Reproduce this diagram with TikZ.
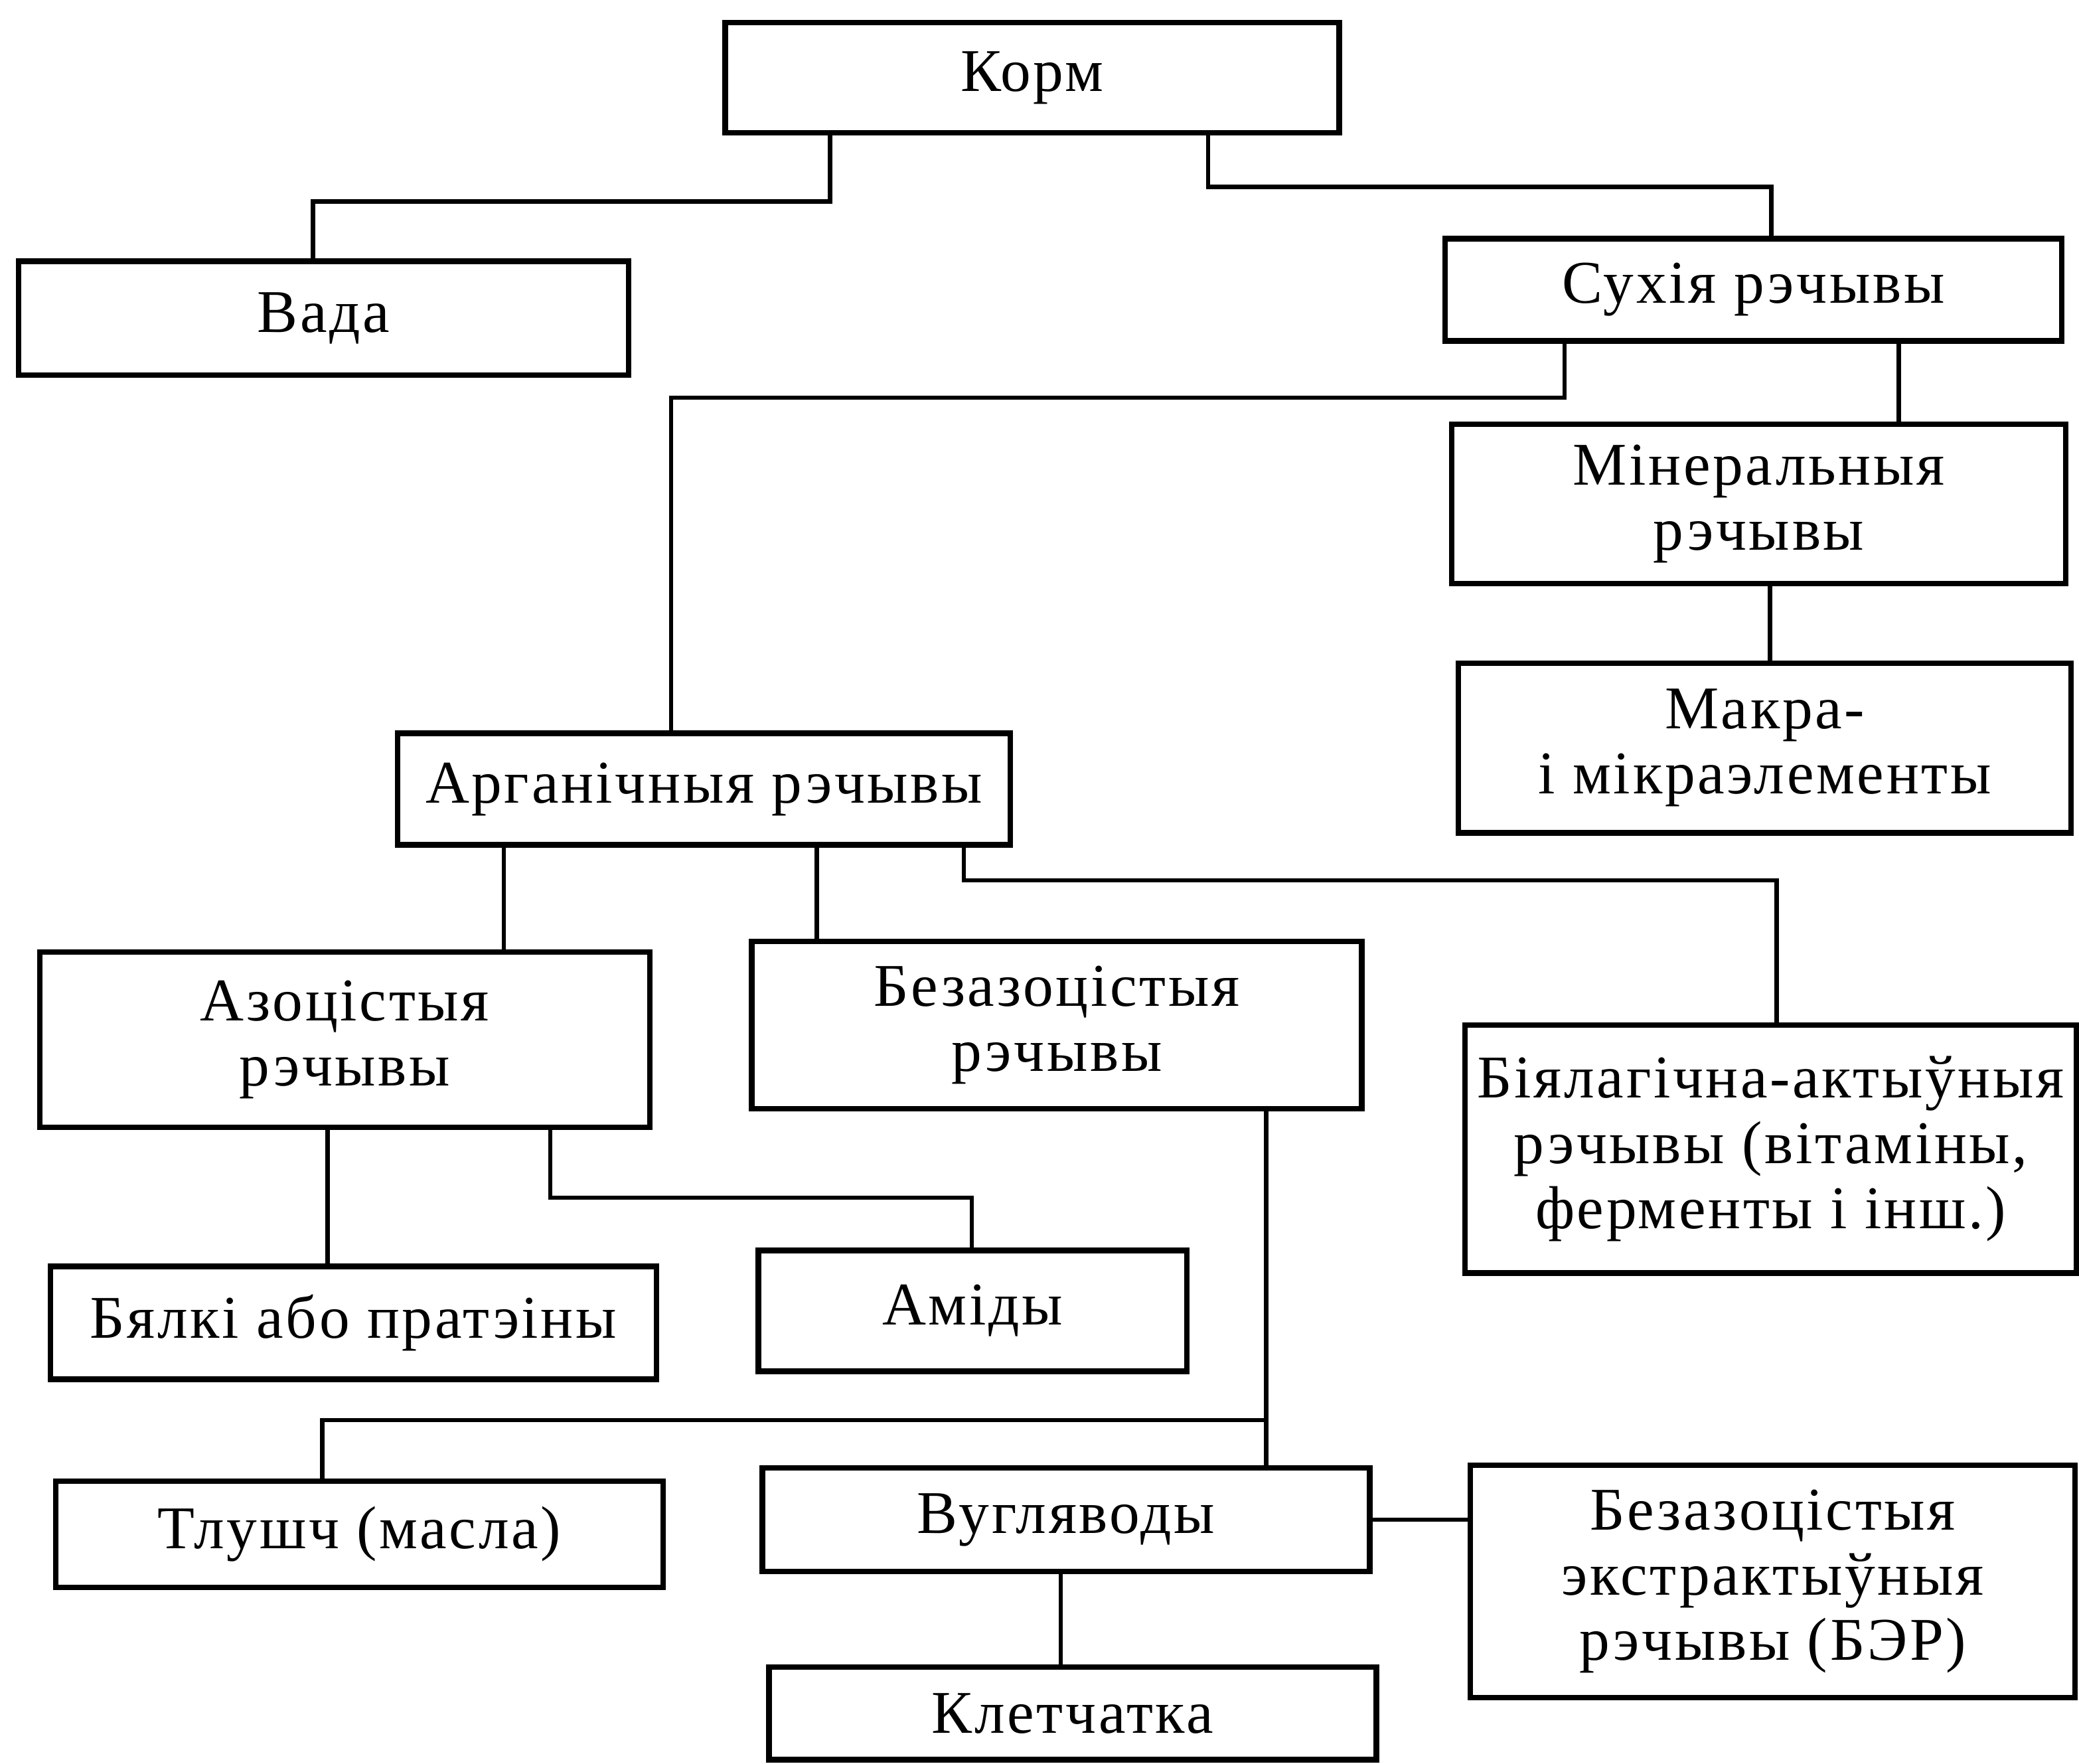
\documentclass[tikz,border=0pt]{standalone}
\usepackage{fontspec}
\setmainfont[LetterSpace=4]{Liberation Serif}
\newcommand\uu{0.019974cm}
\newcommand\mybox[6]{\node[box, minimum width=#4*\uu, minimum height=#5*\uu] (#1) at (#2,#3) {#6};}
\tikzset{
  box/.style={draw, line width=2.4pt, fill=white, align=center, inner sep=0pt,
    font=\fontsize{26}{28}\selectfont},
  link/.style={line width=1.8pt}
}
\begin{document}
\begin{tikzpicture}[x=0.019974cm, y=-0.019974cm]
\useasboundingbox (0,0) rectangle (1568,1330);
% boxes
\mybox{korm}{778.5}{58.5}{463}{83}{Корм}
\mybox{vada}{244}{240}{460}{86}{Вада}
\mybox{suhia}{1322.5}{218.5}{465}{77}{Сухія рэчывы}
\mybox{miner}{1326.5}{380}{463}{120}{Мінеральныя\\рэчывы}
\mybox{makra}{1331}{564}{462}{128}{Макра-\\і мікраэлементы}
\mybox{argan}{531}{595}{462}{84}{Арганічныя рэчывы}
\mybox{azot}{260}{784}{460}{132}{Азоцістыя\\рэчывы}
\mybox{bezaz}{797}{773}{460}{126}{Безазоцістыя\\рэчывы}
\mybox{bial}{1335.5}{866.5}{461}{187}{Біялагічна-актыўныя\\рэчывы (вітаміны,\\ферменты і інш.)}
\mybox{bialki}{266.5}{997.5}{457}{85}{Бялкі або пратэіны}
\mybox{amidy}{733.5}{988.5}{323}{91}{Аміды}
\mybox{tlush}{271}{1157}{458}{80}{Тлушч (масла)}
\mybox{vugl}{804}{1146}{458}{78}{Вугляводы}
\mybox{ber}{1337}{1192.5}{456}{175}{Безазоцістыя\\экстрактыўныя\\рэчывы (БЭР)}
\mybox{klet}{809}{1292}{458}{70}{Клетчатка}
% connectors
\draw[link] (korm.south -| 626,0) -- (626,152) -- (236,152) -- (vada.north -| 236,0);
\draw[link] (korm.south -| 911,0) -- (911,141) -- (1336,141) -- (suhia.north -| 1336,0);
\draw[link] (suhia.south -| 1180,0) -- (1180,300) -- (506,300) -- (argan.north -| 506,0);
\draw[link] (suhia.south -| 1432,0) -- (miner.north -| 1432,0);
\draw[link] (miner.south -| 1335,0) -- (makra.north -| 1335,0);
\draw[link] (argan.south -| 380,0) -- (azot.north -| 380,0);
\draw[link] (argan.south -| 616,0) -- (bezaz.north -| 616,0);
\draw[link] (argan.south -| 727,0) -- (727,664) -- (1340,664) -- (bial.north -| 1340,0);
\draw[link] (azot.south -| 247,0) -- (bialki.north -| 247,0);
\draw[link] (azot.south -| 415,0) -- (415,903) -- (733,903) -- (amidy.north -| 733,0);
\draw[link] (bezaz.south -| 955,0) -- (vugl.north -| 955,0);
\coordinate (branch) at (955,1071);
\draw[link] (branch) -- (243,1071) -- (tlush.north -| 243,0);
\draw[link] (vugl.east) -- (ber.west |- vugl.east);
\draw[link] (vugl.south -| 800,0) -- (klet.north -| 800,0);
\end{tikzpicture}
\end{document}
